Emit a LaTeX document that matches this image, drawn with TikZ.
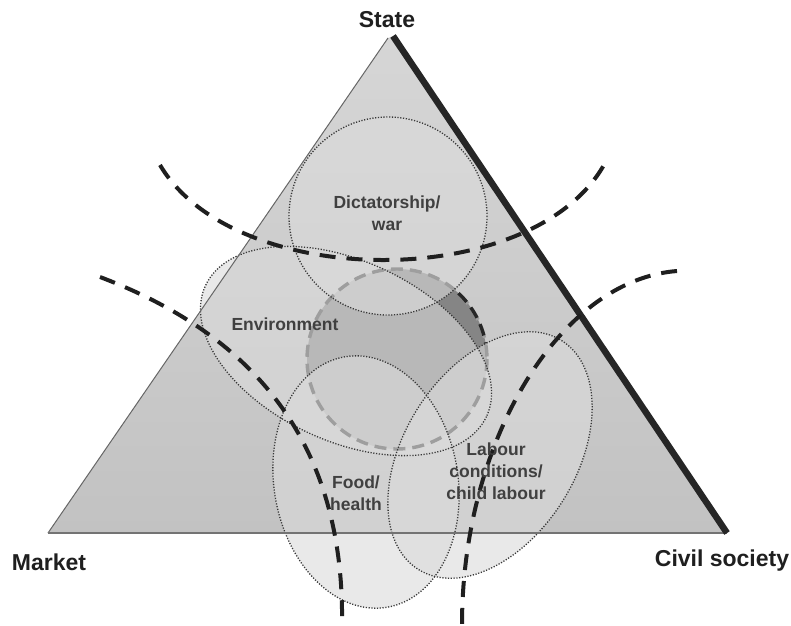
\documentclass[tikz,border=0pt]{standalone}
\usepackage{fontspec}
\setmainfont{Liberation Sans}
\definecolor{tri1}{HTML}{D6D6D6}
\definecolor{tri2}{HTML}{C2C2C2}
\definecolor{ovl}{HTML}{DBDBDB}
\definecolor{darkpatch}{HTML}{858585}
\begin{document}
\begin{tikzpicture}[x=1pt,y=-1pt,
  dotline/.style={draw=black!78, line width=1.3pt, dash pattern=on 1.2pt off 1.6pt},
  bubble/.style={fill=ovl, fill opacity=0.6},
  divider/.style={draw=black!88, line width=4pt, dash pattern=on 16pt off 11pt},
  ringline/.style={line width=3.4pt, dash pattern=on 12pt off 7pt},
  inlabel/.style={font=\fontsize{17.5}{22}\selectfont\bfseries, text=black!75, align=center},
  outlabel/.style={font=\fontsize{23}{27}\selectfont\bfseries, text=black!88},
]
\useasboundingbox (0,0) rectangle (791,625);
\fill[white] (0,0) rectangle (791,625);
\coordinate (S) at (388,38);
\coordinate (M) at (48,533);
\coordinate (C) at (727,533);
\coordinate (St) at (393,36);
% triangle
\shade[top color=tri1, bottom color=tri2] (S) -- (M) -- (C) -- (St) -- cycle;
% dark grey circle
\fill[darkpatch] (397,359) circle (90);
% translucent bubbles
\path[bubble] (388,216) circle (99);
\path[bubble, rotate around={-25:(346,351)}] (346,351) ellipse [x radius=155, y radius=90];
\path[bubble, rotate around={9.5:(366,482)}] (366,482) ellipse [x radius=92, y radius=127];
\path[bubble, rotate around={58:(490,455)}] (490,455) ellipse [x radius=135, y radius=86];
% ring outline
\draw[ringline, draw=black!38] (397,359) circle (90);
\draw[ringline, draw=black!85] (397,359) ++(-47:90) arc[start angle=-47, end angle=-10, radius=90];
% dotted outlines
\draw[dotline] (388,216) circle (99);
\draw[dotline, rotate around={-25:(346,351)}] (346,351) ellipse [x radius=155, y radius=90];
\draw[dotline, rotate around={9.5:(366,482)}] (366,482) ellipse [x radius=92, y radius=127];
\draw[dotline, rotate around={58:(490,455)}] (490,455) ellipse [x radius=135, y radius=86];
% triangle edges
\draw[black!60, line width=1pt] (M) -- (S);
\draw[black!55, line width=1.6pt] (M) -- (C);
\draw[black!85, line width=6.5pt] (St) -- (C);
% dividing lines
\draw[divider] (160,165) .. controls (235,292) and (535,292) .. (605,163);
\draw[divider] (100,277) .. controls (240,330) and (345,430) .. (342,625);
\draw[divider] (677,271) .. controls (560,280) and (462,440) .. (462,625);
% labels
\node[outlabel] (state) at (387,20) {State};
\node[outlabel] (market) at (49,562) {Market};
\node[outlabel] (civil) at (722,561) {Civil society};
\node[inlabel] (dict) at (387,213) {Dictatorship/\\war};
\node[inlabel] (env) at (285,324) {Environment};
\node[inlabel] (food) at (356,493) {Food/\\health};
\node[inlabel] (labour) at (496,471) {Labour\\conditions/\\child labour};
\end{tikzpicture}
\end{document}
